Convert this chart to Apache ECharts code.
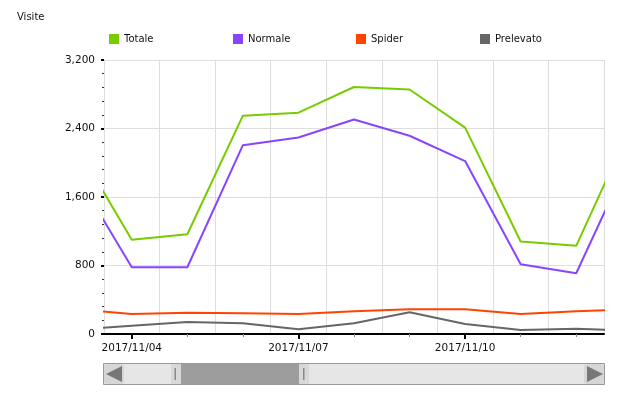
<!DOCTYPE html>
<html>
<head>
<meta charset="utf-8">
<script src="https://cdn.jsdelivr.net/npm/echarts@6/dist/echarts.min.js"></script>
<style>html,body{margin:0;padding:0;background:#fff}#c{width:620px;height:395px}</style>
</head>
<body>
<div id="c"></div>
<script>
// Dates (one point per day); the visible window runs from 11/03 12:00 to 11/12 12:00
var dates = ['2017/11/03','2017/11/04','2017/11/05','2017/11/06','2017/11/07','2017/11/08','2017/11/09','2017/11/10','2017/11/11','2017/11/12','2017/11/13'];
var totale    = [2200, 1100, 1165, 2550, 2585, 2885, 2855, 2410, 1080, 1030, 2450];
var normale   = [1865,  780,  780, 2205, 2295, 2505, 2315, 2020,  815,  710, 2110];
var spider    = [ 288,  234,  249,  242,  234,  265,  288,  288,  234,  265,  289];
var prelevato = [  51,   97,  140,  125,   55,  125,  253,  117,   47,   62,   38];
var majorDates = ['2017/11/04','2017/11/07','2017/11/10'];
var yTicks = [0, 800, 1600, 2400, 3200];

var FONT = 'DejaVu Sans';
function idx(d){ return dates.indexOf(d); }
var majorIdx = majorDates.map(idx);
var minorIdx = [];
for (var i = 0; i < dates.length; i++) if (majorIdx.indexOf(i) < 0) minorIdx.push(i);
function pairs(arr){ return arr.map(function(v,i){ return [i, v]; }); }

var viewMin = 0.5, viewMax = 9.5;
var colors = {Totale:'#77cc00', Normale:'#8844ff', Spider:'#ff4400', Prelevato:'#666666'};

function mkSeries(name, arr){
  return {name:name, type:'line', xAxisIndex:0, yAxisIndex:0, data:pairs(arr), showSymbol:false, symbol:'none',
    lineStyle:{width:2, color:colors[name]}, itemStyle:{color:colors[name]}, clip:true, animation:false};
}
function mkLegend(name, left){
  return {data:[name], left:left, top:34, padding:0, icon:'rect', itemWidth:10, itemHeight:10,
    textStyle:{fontFamily:FONT, fontSize:10, color:'#111'}, selectedMode:false};
}

var grid = {left:104, right:16, top:60, bottom:61};
var chart = echarts.init(document.getElementById('c'), null, {renderer:'canvas'});
chart.setOption({
  animation:false,
  backgroundColor:'#fff',
  title:{text:'Visite', left:17, top:12, padding:0, textStyle:{fontFamily:FONT, fontSize:10, fontWeight:'normal', color:'#111'}},
  legend:[mkLegend('Totale',109), mkLegend('Normale',233), mkLegend('Spider',356), mkLegend('Prelevato',480)],
  grid:grid,
  xAxis:[
    {type:'value', min:viewMin, max:viewMax, position:'bottom',
     axisLine:{show:true, onZero:false, lineStyle:{color:'#000', width:2}},
     axisTick:{show:true, customValues:majorIdx, length:5, lineStyle:{color:'#000', width:2}},
     axisLabel:{show:true, customValues:majorIdx, margin:9, fontFamily:FONT, fontSize:10.5, color:'#111',
       formatter:function(v){ return dates[Math.round(v)] || ''; }},
     splitLine:{show:false}},
    {type:'value', min:viewMin, max:viewMax, position:'bottom',
     axisLine:{show:false},
     axisTick:{show:true, customValues:minorIdx, length:3, lineStyle:{color:'#888', width:1}},
     axisLabel:{show:false}, splitLine:{show:false}},
    {type:'value', min:0, max:viewMax - viewMin, interval:1, position:'top',
     axisLine:{show:false}, axisTick:{show:false}, axisLabel:{show:false},
     splitLine:{show:true, lineStyle:{color:'#dedede', width:1}}}
  ],
  yAxis:{type:'value', min:yTicks[0], max:yTicks[yTicks.length-1], interval:yTicks[1]-yTicks[0],
    axisLine:{show:false},
    axisTick:{show:true, length:3, lineStyle:{color:'#000', width:2}},
    minorTick:{show:true, splitNumber:5, length:2, lineStyle:{color:'#333', width:1}},
    axisLabel:{margin:9, fontFamily:FONT, fontSize:10.5, color:'#111',
      formatter:function(v){ return String(v).replace(/\B(?=(\d{3})+(?!\d))/g, ','); }},
    splitLine:{show:true, lineStyle:{color:'#dedede', width:1}}},
  series:[mkSeries('Totale', totale), mkSeries('Normale', normale), mkSeries('Spider', spider), mkSeries('Prelevato', prelevato)],
  graphic:[
    {type:'rect', silent:true, shape:{x:103.5, y:363.5, width:501, height:21}, style:{fill:'#e6e6e6', stroke:'#9a9a9a', lineWidth:1}},
    {type:'rect', silent:true, shape:{x:104, y:364, width:20, height:20, r:3}, style:{fill:'#d6d6d6'}},
    {type:'polygon', silent:true, shape:{points:[[106,374],[122,366],[122,382]]}, style:{fill:'#777'}},
    {type:'rect', silent:true, shape:{x:584, y:364, width:20, height:20, r:3}, style:{fill:'#d6d6d6'}},
    {type:'polygon', silent:true, shape:{points:[[603,374],[587,366],[587,382]]}, style:{fill:'#777'}},
    {type:'rect', silent:true, shape:{x:171, y:364, width:10, height:20}, style:{fill:'#d8d8d8'}},
    {type:'rect', silent:true, shape:{x:174.5, y:368, width:1.5, height:12}, style:{fill:'#888'}},
    {type:'rect', silent:true, shape:{x:181, y:364, width:118, height:20}, style:{fill:'#9d9d9d'}},
    {type:'rect', silent:true, shape:{x:299, y:364, width:10, height:20}, style:{fill:'#d8d8d8'}},
    {type:'rect', silent:true, shape:{x:303, y:368, width:1.5, height:12}, style:{fill:'#888'}}
  ]
});
</script>
</body>
</html>
